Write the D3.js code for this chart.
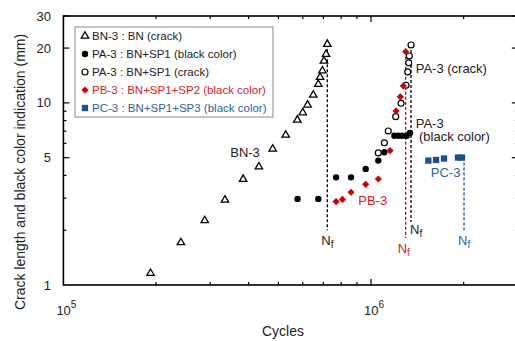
<!DOCTYPE html>
<html>
<head>
<meta charset="utf-8">
<script src="https://cdn.jsdelivr.net/npm/d3@7"></script>
<style>
  body { margin: 0; background: #fff; }
  text { font-family: "Liberation Sans", Arial, sans-serif; }
</style>
</head>
<body>
<div id="chart"></div>
<script>
// BN-3 : BN (crack)
const bnCycles = [192000, 241000, 288000, 335000, 384000, 432000, 479000, 528000, 576000,
  600000, 622000, 649000, 674000, 683000, 695000, 703000, 714000, 721000];
const bnCrack = [1.16, 1.71, 2.26, 2.93, 3.81, 4.46, 5.58, 6.66, 8.06,
  8.84, 9.74, 11.05, 12.65, 13.82, 15.0, 17.0, 18.5, 21.0];

// PA-3 : BN+SP1 (black color)
const paBlackCycles = [577000, 674000, 770000, 861000, 961000, 1056000, 1105000,
  1191000, 1227000, 1264000, 1306000, 1339000];
const paBlackLen = [2.97, 2.97, 3.90, 3.90, 4.34, 4.82, 5.36, 6.60, 6.60, 6.60, 6.60, 6.83];

// PA-3 : BN+SP1 (crack)
const paCrackCycles = [1056000, 1105000, 1138000, 1203000, 1252000, 1299000, 1316000,
  1326000, 1332000, 1349000];
const paCrackLen = [5.31, 6.04, 7.01, 8.40, 9.95, 12.5, 14.8, 16.6, 18.1, 20.8];

// PB-3 : BN+SP1+SP2 (black color)
const pbCycles = [770000, 807000, 861000, 961000, 1056000, 1153000, 1206000, 1245000,
  1274000, 1296000];
const pbLen = [2.87, 2.95, 3.23, 3.57, 3.82, 5.47, 9.03, 10.8, 12.4, 19.1];

// PC-3 : BN+SP1+SP3 (black color)
const pcCycles = [1536000, 1627000, 1727000, 1917000, 1976000];
const pcLen = [4.82, 4.86, 4.95, 5.01, 5.01];

// Nf (failure) markers
const nfCycles = [721000, 1296000, 1349000, 2006000];
const nfTop = [21.0, 19.1, 20.8, 5.01];
const nfBottom = [2.0, 1.81, 2.22, 2.0];

// text annotations
const noteText = ["BN-3", "PA-3 (crack)", "PA-3", "(black color)", "PB-3", "PC-3"];
const noteCycles = [348600, 1397000, 1397000, 1432000, 909000, 1564000];
const noteLen = [5.05, 14.6, 7.3, 6.15, 2.75, 3.92];

const legendLabels = [
  "BN-3 : BN (crack)",
  "PA-3 : BN+SP1 (black color)",
  "PA-3 : BN+SP1 (crack)",
  "PB-3 : BN+SP1+SP2 (black color)",
  "PC-3 : BN+SP1+SP3 (black color)"
];

const xTicks = [2e5, 3e5, 4e5, 5e5, 6e5, 7e5, 8e5, 9e5, 1e6, 2e6, 3e6];
const yTicks = [2, 3, 4, 5, 6, 7, 8, 9, 10, 20, 30];
const yLabels = [1, 5, 10, 20, 30];

const RED = "#cc0000", RED_TEXT = "#d4202a", BLUE = "#1f4e8a", BLUE_TEXT = "#2f5f9c";

const width = 515, height = 341;
const x = d3.scaleLog().domain([1e5, 3e6]).range([63.4, 517.8]);
const y = d3.scaleLog().domain([1, 30]).range([285, 16]);

const svg = d3.select("#chart").append("svg")
  .attr("width", width).attr("height", height);

// frame
svg.append("rect")
  .attr("x", x(1e5)).attr("y", y(30))
  .attr("width", x(3e6) - x(1e5)).attr("height", y(1) - y(30))
  .attr("fill", "none").attr("stroke", "#000").attr("stroke-width", 1.6);

function isMajor(v) { return Math.abs(Math.log10(v) - Math.round(Math.log10(v))) < 1e-9; }

// inner ticks on all four sides
const tickLen = (v, big) => isMajor(v) ? big : big / 2;
svg.append("g").selectAll("line").data(xTicks).join("line")
  .attr("x1", d => x(d)).attr("x2", d => x(d))
  .attr("y1", y(1)).attr("y2", d => y(1) - tickLen(d, 6))
  .attr("stroke", "#000").attr("stroke-width", 1.2);
svg.append("g").selectAll("line").data(xTicks).join("line")
  .attr("x1", d => x(d)).attr("x2", d => x(d))
  .attr("y1", y(30)).attr("y2", d => y(30) + tickLen(d, 6))
  .attr("stroke", "#000").attr("stroke-width", 1.2);
svg.append("g").selectAll("line").data(yTicks).join("line")
  .attr("y1", d => y(d)).attr("y2", d => y(d))
  .attr("x1", x(1e5)).attr("x2", d => x(1e5) + (yLabels.includes(d) ? 6 : 3))
  .attr("stroke", "#000").attr("stroke-width", 1.2);
svg.append("g").selectAll("line").data(yTicks).join("line")
  .attr("y1", d => y(d)).attr("y2", d => y(d))
  .attr("x1", x(3e6)).attr("x2", d => x(3e6) - (yLabels.includes(d) ? 6 : 3))
  .attr("stroke", "#000").attr("stroke-width", 1.2);

// y tick labels
svg.append("g").selectAll("text").data(yLabels).join("text")
  .attr("x", 51).attr("y", d => y(d) + 4.5)
  .attr("text-anchor", "end").attr("font-size", 13).attr("fill", "#222")
  .text(d => d);

// x tick labels 10^5, 10^6
const xl = svg.append("g").selectAll("text").data([1e5, 1e6]).join("text")
  .attr("x", d => x(d) - 7).attr("y", 315)
  .attr("font-size", 13).attr("fill", "#222");
xl.append("tspan").text("10");
xl.append("tspan").attr("dy", -7).attr("font-size", 10).text(d => Math.round(Math.log10(d)));

// axis titles
svg.append("text").attr("x", 283).attr("y", 336)
  .attr("text-anchor", "middle").attr("font-size", 14).attr("fill", "#222").text("Cycles");
svg.append("text")
  .attr("transform", `translate(25,172) rotate(-90)`)
  .attr("text-anchor", "middle").attr("font-size", 14).attr("fill", "#222")
  .text("Crack length and black color indication (mm)");

// Nf dashed lines
const nfColor = ["#000", RED, "#000", BLUE];
const nfDx = [0, -2, 5, 0];
const nfDy = [15, 15, 12, 15];
svg.append("g").selectAll("line").data(nfCycles).join("line")
  .attr("x1", d => x(d)).attr("x2", d => x(d))
  .attr("y1", (d, i) => y(nfTop[i])).attr("y2", (d, i) => y(nfBottom[i]))
  .attr("stroke", (d, i) => nfColor[i]).attr("stroke-width", 1.3)
  .attr("stroke-dasharray", "3,2");
const nf = svg.append("g").selectAll("text").data(nfCycles).join("text")
  .attr("x", (d, i) => x(d) + nfDx[i] - 6).attr("y", (d, i) => y(nfBottom[i]) + nfDy[i])
  .attr("font-size", 13).attr("fill", (d, i) => nfColor[i] === "#000" ? "#222" : (i === 1 ? RED_TEXT : BLUE_TEXT));
nf.append("tspan").text("N");
nf.append("tspan").attr("dy", 3).attr("font-size", 10).text("f");

// markers
const sym = (type, size) => d3.symbol().type(type).size(size)();
function plot(cycles, vals, draw) {
  const g = svg.append("g");
  cycles.forEach((c, i) => draw(g.append("path")
    .attr("transform", `translate(${x(c)},${y(vals[i])})`)));
}
const triangle = p => p.attr("d", sym(d3.symbolTriangle, 24)).attr("fill", "#fff")
  .attr("stroke", "#000").attr("stroke-width", 1.3);
const dot = p => p.attr("d", sym(d3.symbolCircle, 32)).attr("fill", "#000");
const ring = p => p.attr("d", sym(d3.symbolCircle, 28)).attr("fill", "#fff")
  .attr("stroke", "#000").attr("stroke-width", 1.2);
const diamond = p => p.attr("d", sym(d3.symbolSquare, 26)).attr("fill", RED)
  .attr("transform", p.attr("transform") + " rotate(45)");
const square = p => p.attr("d", sym(d3.symbolSquare, 40)).attr("fill", BLUE);

plot(bnCycles, bnCrack, triangle);
plot(paBlackCycles, paBlackLen, dot);
plot(paCrackCycles, paCrackLen, ring);
plot(pbCycles, pbLen, diamond);
plot(pcCycles, pcLen, square);

// annotations
const noteColor = ["#222", "#222", "#222", "#222", RED_TEXT, BLUE_TEXT];
svg.append("g").selectAll("text").data(noteText).join("text")
  .attr("x", (d, i) => x(noteCycles[i])).attr("y", (d, i) => y(noteLen[i]))
  .attr("font-size", 13).attr("fill", (d, i) => noteColor[i])
  .text(d => d);

// legend
const lg = svg.append("g").attr("transform", "translate(75,27)");
lg.append("rect").attr("width", 198).attr("height", 90)
  .attr("fill", "#fff").attr("stroke", "#888").attr("stroke-width", 1);
const legendDraw = [triangle, dot, ring, diamond, square];
const legendColor = ["#222", "#222", "#222", RED_TEXT, BLUE_TEXT];
legendLabels.forEach((t, i) => {
  const cy = 9 + i * 18;
  legendDraw[i](lg.append("path").attr("transform", `translate(10,${cy})`));
  lg.append("text").attr("x", 17).attr("y", cy + 4)
    .attr("font-size", 11.5).attr("fill", legendColor[i]).text(t);
});
</script>
</body>
</html>
